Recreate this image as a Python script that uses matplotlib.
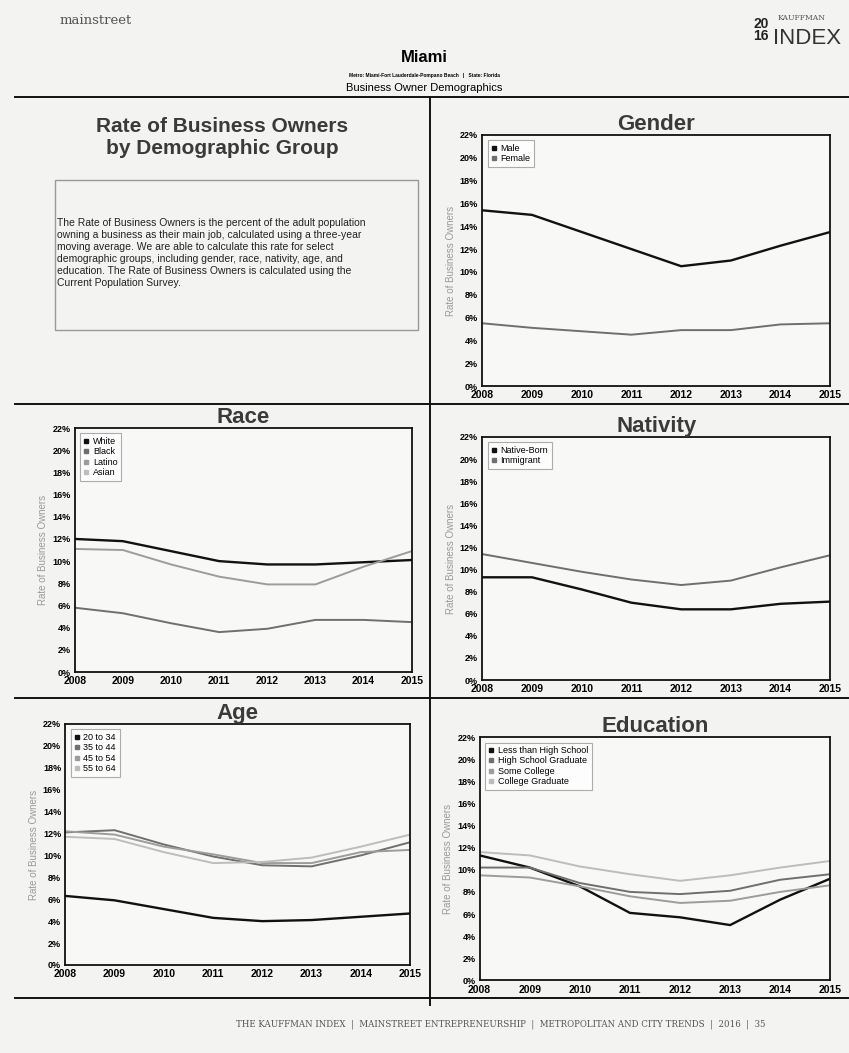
import numpy as np
import matplotlib.pyplot as plt
from matplotlib.lines import Line2D

plt.rcParams['font.family'] = ['Liberation Sans', 'DejaVu Sans']

years = [2008, 2009, 2010, 2011, 2012, 2013, 2014, 2015]
yticks = [0, 2, 4, 6, 8, 10, 12, 14, 16, 18, 20, 22]

gender_labels = ['Male', 'Female']
male = [15.4, 15.0, 13.5, 12.0, 10.5, 11.0, 12.3, 13.5]
female = [5.5, 5.1, 4.8, 4.5, 4.9, 4.9, 5.4, 5.5]

race_labels = ['White', 'Black', 'Latino', 'Asian']
white = [12.0, 11.8, 10.9, 10.0, 9.7, 9.7, 9.9, 10.1]
black = [5.8, 5.3, 4.4, 3.6, 3.9, 4.7, 4.7, 4.5]
latino = [11.1, 11.0, 9.7, 8.6, 7.9, 7.9, 9.5, 10.9]

nativity_labels = ['Native-Born', 'Immigrant']
native = [9.3, 9.3, 8.2, 7.0, 6.4, 6.4, 6.9, 7.1]
immigrant = [11.4, 10.6, 9.8, 9.1, 8.6, 9.0, 10.2, 11.3]

age_labels = ['20 to 34', '35 to 44', '45 to 54', '55 to 64']
age_20_34 = [6.3, 5.9, 5.1, 4.3, 4.0, 4.1, 4.4, 4.7]
age_35_44 = [12.1, 12.3, 11.0, 9.9, 9.1, 9.0, 10.0, 11.2]
age_45_54 = [12.2, 11.9, 10.8, 10.1, 9.3, 9.3, 10.3, 10.5]
age_55_64 = [11.7, 11.5, 10.3, 9.3, 9.4, 9.8, 10.8, 11.9]

edu_labels = ['Less than High School', 'High School Graduate', 'Some College', 'College Graduate']
edu_less_hs = [11.3, 10.2, 8.5, 6.1, 5.7, 5.0, 7.3, 9.2]
edu_hs = [10.2, 10.2, 8.8, 8.0, 7.8, 8.1, 9.1, 9.6]
edu_some = [9.5, 9.3, 8.5, 7.6, 7.0, 7.2, 8.0, 8.6]
edu_college = [11.6, 11.3, 10.3, 9.6, 9.0, 9.5, 10.2, 10.8]

colors = ['#111111', '#6f6f6f', '#9c9c9c', '#bdbdbd']
paper = '#f3f3f1'

fig = plt.figure(figsize=(8.49, 10.53), dpi=100, facecolor=paper)


def panel(rect, title, series, labels, ylab=True):
    ax = fig.add_axes(rect)
    ax.set_facecolor('#f8f8f6')
    for i, s in enumerate(series):
        ax.plot(years, s, color=colors[i], lw=1.7 if i == 0 else 1.4)
    ax.set_xlim(2008, 2015)
    ax.set_ylim(0, 22)
    ax.set_yticks(yticks)
    ax.set_yticklabels(['%d%%' % v for v in yticks], fontsize=6.5, fontweight='bold')
    ax.set_xticks(years)
    ax.set_xticklabels([str(y) for y in years], fontsize=7.5, fontweight='bold')
    ax.tick_params(length=0, pad=3)
    for sp in ax.spines.values():
        sp.set_linewidth(1.3)
        sp.set_color('#111111')
    if ylab:
        ax.set_ylabel('Rate of Business Owners', fontsize=7, color='#9a9a9a', labelpad=3)
    handles = [Line2D([], [], marker='s', ls='none', markersize=3.5, color=colors[i])
               for i in range(len(labels))]
    leg = ax.legend(handles, labels, loc='upper left', fontsize=6.5, frameon=True,
                    fancybox=False, handlelength=0.6, handletextpad=0.4,
                    labelspacing=0.15, borderpad=0.4, borderaxespad=0.6)
    leg.get_frame().set_edgecolor('#999999')
    leg.get_frame().set_linewidth(0.8)
    ax.set_title(title, fontsize=16, fontweight='bold', color='#3a3a3a', pad=1)
    return ax


panel([0.568, 0.6334, 0.410, 0.2384], 'Gender', [male, female], gender_labels)
panel([0.088, 0.3618, 0.397, 0.2317], 'Race', [white, black, latino], race_labels)
panel([0.568, 0.3542, 0.410, 0.2308], 'Nativity', [native, immigrant], nativity_labels)
panel([0.077, 0.0836, 0.406, 0.2289], 'Age', [age_20_34, age_35_44, age_45_54, age_55_64], age_labels)
panel([0.565, 0.069, 0.413, 0.231], 'Education', [edu_less_hs, edu_hs, edu_some, edu_college], edu_labels)

# page furniture
fig.text(60 / 849, 1 - 20 / 1053, 'mainstreet', fontsize=9.5, family='DejaVu Serif',
         color='#555555', va='center')
fig.text(761 / 849, 1 - 30 / 1053, '20\n16', fontsize=10, fontweight='bold',
         color='#222222', va='center', ha='center', linespacing=0.85)
fig.text(778 / 849, 1 - 18 / 1053, 'KAUFFMAN', fontsize=5.5, family='DejaVu Serif',
         color='#555555', va='center')
fig.text(773 / 849, 1 - 38 / 1053, 'INDEX', fontsize=16, color='#333333', va='center')
fig.text(0.5, 1 - 58 / 1053, 'Miami', fontsize=12, fontweight='bold', ha='center', va='center')
fig.text(0.5, 1 - 75 / 1053, 'Metro: Miami-Fort Lauderdale-Pompano Beach   |   State: Florida',
         fontsize=3.5, fontweight='bold', ha='center', va='center')
fig.text(0.5, 1 - 88 / 1053, 'Business Owner Demographics', fontsize=8, ha='center', va='center')

fig.text(222 / 849, 1 - 138 / 1053, 'Rate of Business Owners\nby Demographic Group',
         fontsize=15, fontweight='bold', color='#3a3a3a', ha='center', va='center',
         linespacing=1.2)

desc = ('The Rate of Business Owners is the percent of the adult population\n'
        'owning a business as their main job, calculated using a three-year\n'
        'moving average. We are able to calculate this rate for select\n'
        'demographic groups, including gender, race, nativity, age, and\n'
        'education. The Rate of Business Owners is calculated using the\n'
        'Current Population Survey.')
fig.text(57 / 849, 1 - 253 / 1053, desc, fontsize=7.5, color='#222222', va='center',
         linespacing=1.25)
box = plt.Rectangle((55 / 849, 1 - 330 / 1053), 363 / 849, 150 / 1053,
                    transform=fig.transFigure, fill=False, ec='#999999', lw=1.0)
fig.add_artist(box)

# divider lines
for y in [97, 404, 698, 998]:
    fig.add_artist(Line2D([15 / 849, 849 / 849], [1 - y / 1053, 1 - y / 1053],
                          transform=fig.transFigure, color='#111111', lw=1.4))
fig.add_artist(Line2D([430 / 849, 430 / 849], [1 - 97 / 1053, 1 - 1005 / 1053],
                      transform=fig.transFigure, color='#111111', lw=1.4))

fig.text(0.59, 1 - 1024 / 1053,
         'THE KAUFFMAN INDEX  |  MAINSTREET ENTREPRENEURSHIP  |  METROPOLITAN AND CITY TRENDS  |  2016  |  35',
         fontsize=6.2, family='DejaVu Serif', color='#555555', ha='center', va='center')

plt.savefig('out.png', dpi=100, facecolor=paper)
